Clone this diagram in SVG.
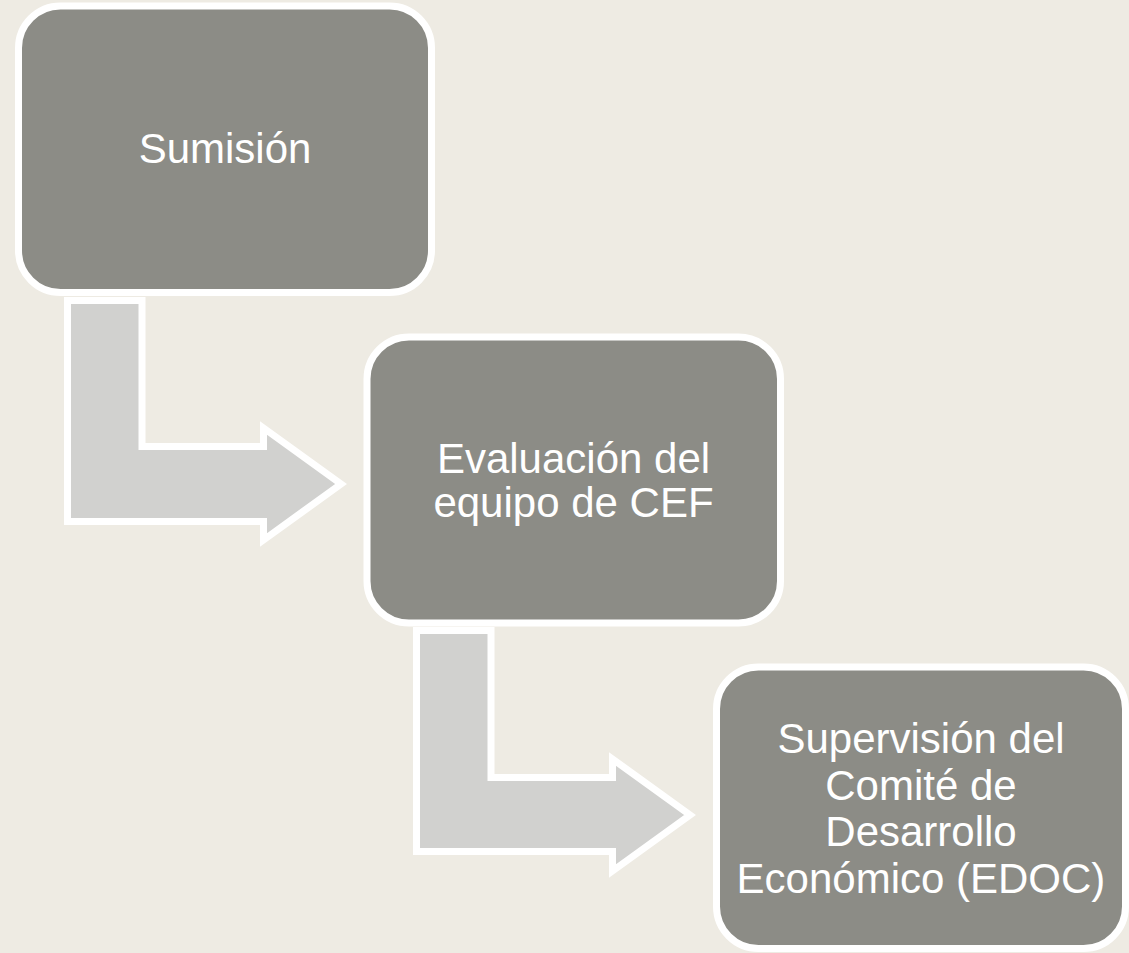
<svg xmlns="http://www.w3.org/2000/svg" width="1129" height="953" viewBox="0 0 1129 953">
  <style>
    .box { fill: #8c8c86; stroke: #ffffff; stroke-width: 7; }
    .arrow { fill: #d1d1cf; stroke: #ffffff; stroke-width: 7; stroke-linejoin: miter; stroke-miterlimit: 4; }
    .label { font-family: "Liberation Sans", Arial, sans-serif; font-size: 42px; fill: #ffffff; text-anchor: middle; }
  </style>
  <rect x="0" y="0" width="1129" height="953" fill="#eeebe3"/>
  <g id="connectors">
    <polygon class="arrow" points="67.5,300.5 142,300.5 142,446.5 263.5,446.5 263.5,428 341,484 263.5,540 263.5,521.5 67.5,521.5"/>
    <polygon class="arrow" points="416.5,630.5 491,630.5 491,777.5 612.5,777.5 612.5,759 690,815 612.5,871 612.5,851.5 416.5,851.5"/>
  </g>
  <g id="node-sumision">
    <rect class="box" x="18.5" y="6" width="413" height="286.5" rx="42" ry="42"/>
    <text class="label" x="225" y="163">Sumisión</text>
  </g>
  <g id="node-evaluacion">
    <rect class="box" x="367" y="337" width="413.5" height="286" rx="42" ry="42"/>
    <text class="label" x="573.5" y="473">Evaluación del</text>
    <text class="label" x="573.5" y="517">equipo de CEF</text>
  </g>
  <g id="node-supervision">
    <rect class="box" x="716.5" y="667" width="409" height="281.5" rx="42" ry="42"/>
    <text class="label" x="921" y="753">Supervisión del</text>
    <text class="label" x="921" y="800">Comité de</text>
    <text class="label" x="921" y="846">Desarrollo</text>
    <text class="label" x="921" y="893">Económico (EDOC)</text>
  </g>
</svg>
